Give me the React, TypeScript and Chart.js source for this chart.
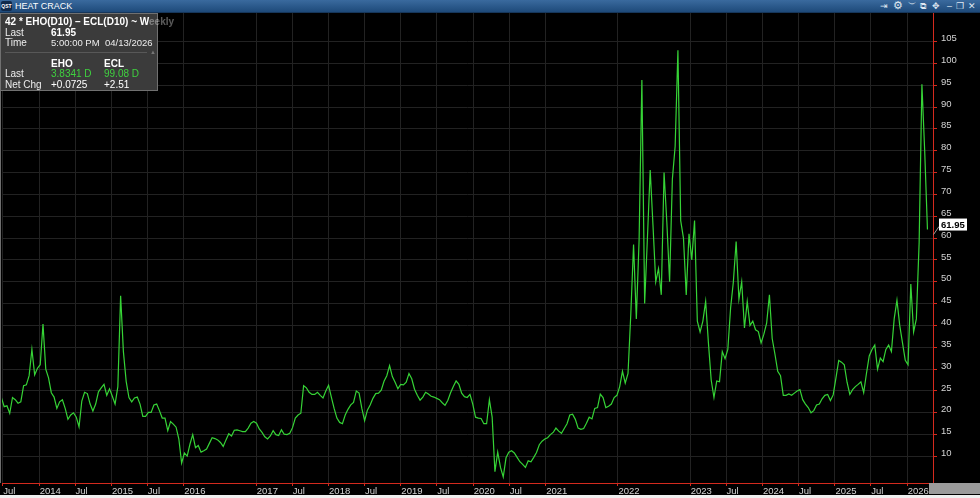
import React, { useEffect, useRef } from "react";
import { Chart, registerables } from "chart.js";

Chart.register(...registerables);

// Bi-weekly closes of the heat crack (42 * EHO - ECL), first point 2013-06-24, last 2026-04-13
const y2013 = [23.5, 21.4, 21.6, 19.9, 23.5, 23, 22.2, 22.5, 26.2, 26.4, 28.5, 34.5, 28.7, 30.2];
const y2014 = [31, 40.3, 30, 28, 24.6, 23.6, 21, 22.5, 23, 21, 18.5, 19.5, 20, 19, 16.8, 22.7, 24.7, 24.4, 22, 20.4, 22, 24.8, 25.7, 26.5, 24, 25.5];
const y2015 = [23.8, 22, 26, 46.8, 34, 27.2, 23.5, 22.5, 23.4, 23.6, 22, 19.2, 19.2, 20.1, 20.1, 21.8, 22, 20.5, 18.8, 18.8, 15.9, 18, 17.4, 16.7, 14, 8.5];
const y2016 = [10.8, 10.1, 12.8, 15, 12, 12.5, 11, 11.3, 11.7, 13, 14.3, 14.1, 13.8, 13.2, 12.3, 13.8, 15.2, 14.7, 16, 16.1, 15.9, 15.7, 15.7, 16.5, 17.6, 18];
const y2017 = [17.6, 16.3, 15.5, 14.5, 14, 14.7, 15.9, 15, 14.8, 16.1, 15.1, 15, 15.3, 16.6, 18.8, 19.5, 19.9, 26.2, 25.7, 24.7, 24.2, 24.2, 24.7, 24, 23.4, 25];
const y2018 = [26.3, 23.6, 21, 18.8, 17.8, 17.5, 19.5, 20.8, 21.8, 22.4, 25, 24.5, 21, 18.2, 20.6, 21.8, 23.3, 24.4, 24.5, 25.2, 27.2, 28.5, 30.8, 28.3, 27, 25.5, 26.5];
const y2019 = [26.4, 27, 29, 27.8, 25.4, 24, 22.9, 23.6, 24.7, 24.3, 23.8, 23.6, 23.3, 23, 22.3, 21.7, 22.8, 24.6, 26, 27.3, 26.5, 24.5, 23.7, 23.5, 24.2, 22];
const y2020 = [19, 18.8, 18.7, 17.5, 17.5, 23, 19, 6.5, 11, 7.5, 5.3, 9.7, 11, 11.3, 10.8, 9.8, 8.8, 8.2, 7.5, 9, 8.8, 9.8, 10.9, 12.7, 13.5, 14];
const y2021 = [14.3, 15, 15.5, 16.5, 15.8, 15.3, 16.4, 17.5, 19.5, 19.7, 18.5, 16.5, 16.2, 16.4, 17.6, 19, 18.6, 21, 21.2, 24.3, 23.5, 21.2, 21.5, 22, 23.5, 24];
const y2022 = [26, 29.5, 26.8, 29, 42.5, 58.5, 41.5, 59.6, 96.2, 45, 60, 75.6, 63, 50, 53, 47, 75, 63.6, 50, 73.5, 81, 103, 64, 60, 47, 61];
const y2023 = [55, 64, 41, 38.5, 41, 45.5, 36, 27.5, 23.5, 27.3, 27.1, 34, 32.4, 34.5, 44, 50, 59.2, 46, 50, 39.4, 45.5, 40, 41, 39, 38.6, 36];
const y2024 = [38, 40.5, 47, 37, 33.4, 29.5, 28.5, 24, 24, 24.3, 24, 24.5, 25, 25.3, 23, 22, 21.2, 20, 20.5, 21.8, 22, 23.2, 24, 24.2, 22.8, 24.1];
const y2025 = [28, 32, 31.6, 31, 27, 24.2, 25.3, 26, 26.5, 27.1, 24.6, 29, 33, 34.5, 35.5, 30, 32.5, 31.7, 34.5, 35.5, 34, 41.5, 45.8, 40, 36, 32];
const y2026 = [31, 49.5, 38.5, 41.5, 59, 95.2, 80, 61.95];

const firstDate = "2013-06-24";
const stepDays = 14;

const xTickDates = [
  "2013-07-01", "2014-01-01", "2014-07-01", "2015-01-01", "2015-07-01", "2016-01-01",
  "2017-01-01", "2017-07-01", "2018-01-01", "2018-07-01", "2019-01-01", "2019-07-01",
  "2020-01-01", "2020-07-01", "2021-01-01", "2022-01-01", "2023-01-01", "2023-07-01",
  "2024-01-01", "2024-07-01", "2025-01-01", "2025-07-01", "2026-01-01",
];
const xTickLabels = [
  "Jul", "2014", "Jul", "2015", "Jul", "2016", "2017", "Jul", "2018", "Jul", "2019", "Jul",
  "2020", "Jul", "2021", "2022", "2023", "Jul", "2024", "Jul", "2025", "Jul", "2026",
];
const yTickValues = [10, 15, 20, 25, 30, 35, 40, 45, 50, 55, 60, 65, 70, 75, 80, 85, 90, 95, 100, 105];

const xRange = ["2013-06-27", "2026-05-11"];
const yRange = [3.93, 111.52];

const RED = "#d42a1e";
const GRID = "#222222";
const LABEL = "#d4d4d4";
const FONT = "'Liberation Sans', Arial, sans-serif";

export default function App() {
  const canvasRef = useRef<HTMLCanvasElement | null>(null);

  useEffect(() => {
    document.body.style.margin = "0";
    const values = [
      ...y2013, ...y2014, ...y2015, ...y2016, ...y2017, ...y2018, ...y2019,
      ...y2020, ...y2021, ...y2022, ...y2023, ...y2024, ...y2025, ...y2026,
    ];
    const t0 = Date.parse(firstDate);
    const points = values.map((v, i) => ({ x: t0 + i * stepDays * 86400000, y: v }));
    const lastValue = values[values.length - 1];

    const lastLabel = {
      id: "lastLabel",
      afterDraw(chart: any) {
        const ctx = chart.ctx;
        const y = chart.scales.y.getPixelForValue(lastValue);
        const ax = chart.chartArea.right;
        ctx.save();
        ctx.strokeStyle = "#a0a0a0";
        ctx.lineWidth = 1;
        ctx.beginPath();
        ctx.moveTo(ax + 0.5, y + 5);
        ctx.lineTo(ax + 6, y - 3);
        ctx.stroke();
        ctx.fillStyle = "#ffffff";
        ctx.fillRect(ax + 6, y - 11, 28, 12);
        ctx.fillStyle = "#000000";
        ctx.font = `bold 9.5px ${FONT}`;
        ctx.textBaseline = "middle";
        ctx.textAlign = "left";
        ctx.fillText(lastValue.toFixed(2), ax + 8, y - 4.5);
        ctx.restore();
      },
    };

    const chart = new Chart(canvasRef.current as HTMLCanvasElement, {
      type: "line",
      data: {
        datasets: [
          {
            data: points,
            borderColor: "#36d336",
            borderWidth: 1.2,
            pointRadius: 0,
            tension: 0,
            fill: false,
          },
        ],
      },
      options: {
        animation: false,
        responsive: false,
        events: [],
        layout: { padding: { left: 2, right: 0, top: 0, bottom: 0 } },
        plugins: { legend: { display: false }, tooltip: { enabled: false } },
        scales: {
          x: {
            type: "linear",
            position: "bottom",
            min: Date.parse(xRange[0]),
            max: Date.parse(xRange[1]),
            afterBuildTicks: (s: any) => {
              s.ticks = xTickDates.map((d) => ({ value: Date.parse(d) }));
            },
            afterFit: (s: any) => {
              s.height = 12;
              s.paddingLeft = 0;
              s.paddingRight = 0;
            },
            grid: { color: GRID, lineWidth: 1, drawTicks: true, tickLength: 3, tickColor: RED },
            border: { color: RED, width: 1 },
            ticks: {
              autoSkip: false,
              maxRotation: 0,
              minRotation: 0,
              align: "start",
              padding: 0,
              labelOffset: 0.5,
              color: LABEL,
              font: { family: FONT, size: 9.5 },
              callback: (_v: any, i: number) => xTickLabels[i] ?? "",
            },
          },
          y: {
            position: "right",
            min: yRange[0],
            max: yRange[1],
            afterBuildTicks: (s: any) => {
              s.ticks = yTickValues.map((v) => ({ value: v }));
            },
            afterFit: (s: any) => {
              s.width = 47;
              s.paddingTop = 0;
              s.paddingBottom = 0;
            },
            grid: { color: GRID, lineWidth: 1, drawTicks: true, tickLength: 4, tickColor: RED },
            border: { color: RED, width: 1 },
            ticks: {
              padding: 4,
              labelOffset: -3,
              color: LABEL,
              font: { family: FONT, size: 9.5 },
              callback: (v: any) => String(v),
            },
          },
        },
      },
      plugins: [lastLabel],
    } as any);
    return () => chart.destroy();
  }, []);

  const txt: React.CSSProperties = { position: "absolute", whiteSpace: "nowrap", lineHeight: "11px" };

  return (
    <div
      style={{
        position: "fixed",
        left: 0,
        top: 0,
        width: 980,
        height: 498,
        background: "#000",
        overflow: "hidden",
        fontFamily: FONT,
      }}
    >
      {/* title bar */}
      <div
        style={{
          position: "absolute",
          left: 0,
          top: 0,
          width: 980,
          height: 12,
          background: "linear-gradient(#3a6a9e, #1e4a7a)",
          borderBottom: "1px solid #16365a",
        }}
      >
        <div
          style={{
            position: "absolute",
            left: 1,
            top: 1,
            width: 11,
            height: 10,
            background: "#10294a",
            borderRadius: 2,
            color: "#fff",
            fontSize: 5,
            fontWeight: "bold",
            lineHeight: "10px",
            textAlign: "center",
          }}
        >
          QST
        </div>
        <div style={{ ...txt, left: 15, top: 0, fontSize: 9, lineHeight: "12px", color: "#ffffff" }}>HEAT CRACK</div>
        <div style={{ ...txt, left: 880, top: 0, fontSize: 9, lineHeight: "12px", color: "#dfe7f1" }}>⇥</div>
        <div style={{ ...txt, left: 893, top: -1, fontSize: 11, lineHeight: "13px", color: "#dfe7f1" }}>⚙</div>
        <div style={{ ...txt, left: 908, top: -2, fontSize: 9, lineHeight: "12px", color: "#dfe7f1" }}>︶</div>
        <div style={{ ...txt, left: 920, top: 0, fontSize: 9, lineHeight: "12px", color: "#dfe7f1" }}>⧉</div>
        <div style={{ ...txt, left: 932, top: 0, fontSize: 9, lineHeight: "12px", color: "#dfe7f1" }}>✥</div>
        <div style={{ ...txt, left: 947, top: 0, fontSize: 9, lineHeight: "12px", color: "#dfe7f1" }}>–</div>
        <div style={{ ...txt, left: 956, top: 0, fontSize: 9, lineHeight: "12px", color: "#dfe7f1" }}>❐</div>
        <div style={{ ...txt, left: 968, top: 0, fontSize: 9, lineHeight: "12px", color: "#dfe7f1" }}>✕</div>
      </div>

      {/* chart */}
      <canvas
        ref={canvasRef}
        width={980}
        height={482}
        style={{ position: "absolute", left: 0, top: 13, width: 980, height: 482 }}
      />

      {/* left edge line */}
      <div style={{ position: "absolute", left: 0, top: 13, width: 1, height: 470, background: "#6e6e6e" }} />

      {/* bottom-right grey block and bottom strip */}
      <div style={{ position: "absolute", left: 929, top: 483, width: 51, height: 11, background: "#9b9b9b" }} />
      <div style={{ position: "absolute", left: 0, top: 495, width: 980, height: 3, background: "#efefef" }} />

      {/* info box */}
      <div
        style={{
          position: "absolute",
          left: 0,
          top: 13,
          width: 158,
          height: 78,
          background: "#3b3b3b",
          border: "1px solid #707070",
          boxSizing: "border-box",
          color: "#ececec",
          fontSize: 10,
        }}
      >
        <div style={{ ...txt, left: 4, top: 2, fontWeight: "bold", color: "#ffffff" }}>
          42 * EHO(D10) – ECL(D10) ~ W<span style={{ opacity: 0.35 }}>eekly</span>
        </div>
        <div style={{ ...txt, left: 4, top: 13 }}>Last</div>
        <div style={{ ...txt, left: 50, top: 13, fontWeight: "bold", color: "#fff" }}>61.95</div>
        <div style={{ ...txt, left: 4, top: 23 }}>Time</div>
        <div style={{ ...txt, left: 50, top: 23, fontSize: 9.5 }}>5:00:00 PM</div>
        <div style={{ ...txt, left: 104, top: 23, fontSize: 9.5 }}>04/13/2026</div>
        <div style={{ position: "absolute", left: 4, top: 38, width: 142, height: 1, background: "#585858" }} />
        <div style={{ ...txt, left: 149, top: 33, fontSize: 6, color: "#777" }}>▲</div>
        <div style={{ ...txt, left: 50, top: 44, fontWeight: "bold", color: "#fff" }}>EHO</div>
        <div style={{ ...txt, left: 103, top: 44, fontWeight: "bold", color: "#fff" }}>ECL</div>
        <div style={{ ...txt, left: 4, top: 54 }}>Last</div>
        <div style={{ ...txt, left: 50, top: 54, color: "#3fd03f" }}>3.8341 D</div>
        <div style={{ ...txt, left: 103, top: 54, color: "#3fd03f" }}>99.08 D</div>
        <div style={{ ...txt, left: 4, top: 64.5 }}>Net Chg</div>
        <div style={{ ...txt, left: 50, top: 64.5, color: "#fff" }}>+0.0725</div>
        <div style={{ ...txt, left: 103, top: 64.5, color: "#fff" }}>+2.51</div>
      </div>
    </div>
  );
}
